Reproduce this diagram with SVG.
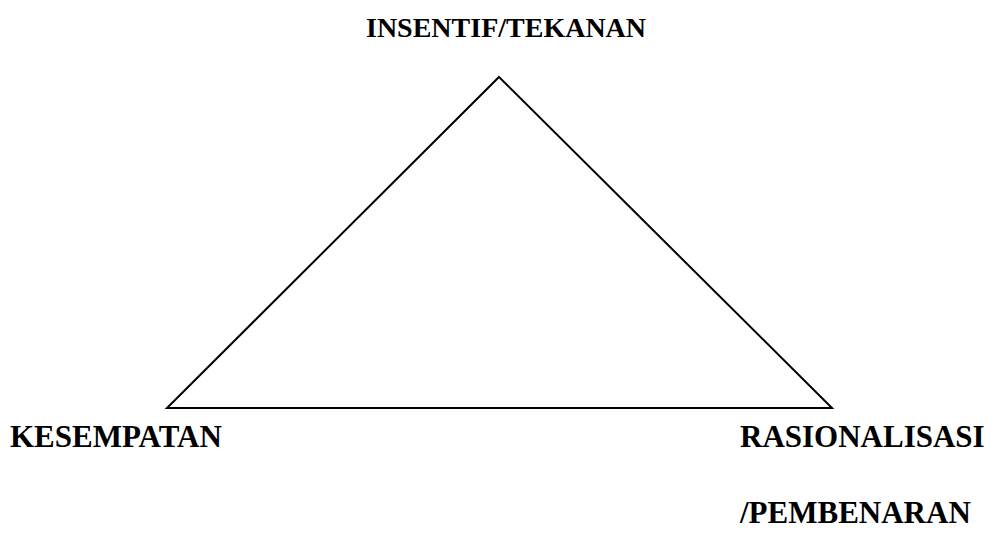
<svg xmlns="http://www.w3.org/2000/svg" width="998" height="550" viewBox="0 0 998 550">
<style>
.lbl{font-family:"Liberation Serif","Times New Roman",serif;font-weight:bold;font-size:31px;fill:#000}
.top{font-size:28px}
.edge{fill:none;stroke:#000;stroke-width:2;stroke-linejoin:miter}
</style>
<rect width="998" height="550" fill="#fff"/>
<g id="connectors">
<polygon class="edge" points="499,77 832,408 167,408"/>
</g>
<g id="node-insentif"><text class="lbl top" x="366" y="37">INSENTIF/TEKANAN</text></g>
<g id="node-kesempatan"><text class="lbl" x="10" y="447">KESEMPATAN</text></g>
<g id="node-rasionalisasi"><text class="lbl" x="740" y="447">RASIONALISASI</text><text class="lbl" x="740" y="523">/PEMBENARAN</text></g>
</svg>
